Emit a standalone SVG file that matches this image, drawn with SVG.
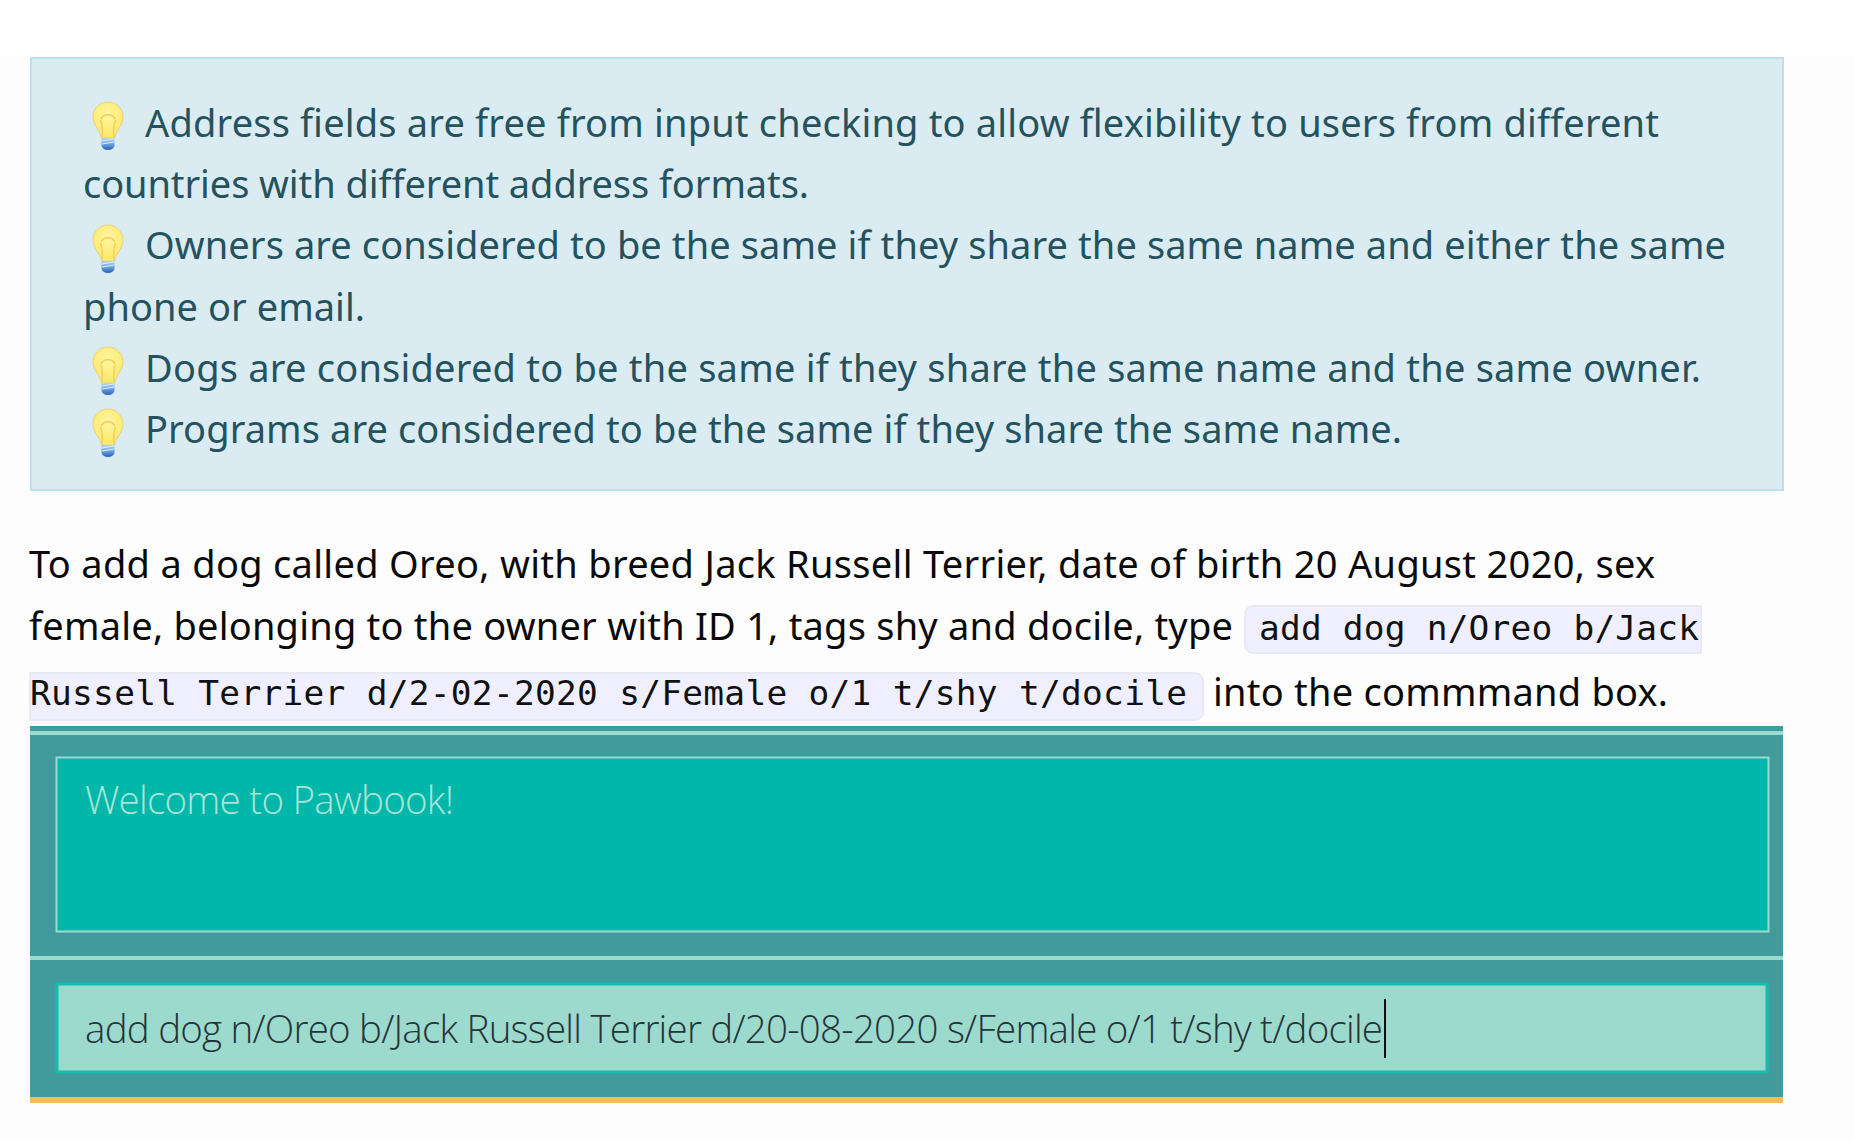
<svg xmlns="http://www.w3.org/2000/svg" width="1854" height="1140" viewBox="0 0 1854 1140">
<style>
.b{font-family:"Noto Sans","Open Sans","DejaVu Sans",sans-serif;font-size:38px}
.t{fill:#24525e}
.p{fill:#0a0a0a}
.m{font-family:"DejaVu Sans Mono","Liberation Mono",monospace;font-size:34.500px;fill:#111}
.l{font-family:"Open Sans","Noto Sans",sans-serif;font-weight:300;font-size:38.500px}
</style>
<defs>
<linearGradient id="base" x1="0" y1="0" x2="0" y2="1"><stop offset="0" stop-color="#b5d6f0"/><stop offset=".5" stop-color="#6ba3e0"/><stop offset="1" stop-color="#2a5fb5"/></linearGradient>
<radialGradient id="glass" cx=".5" cy=".35" r=".7"><stop offset="0" stop-color="#fff6a0"/><stop offset="1" stop-color="#fde663"/></radialGradient>
<g id="bulb">
<path d="M15 0C6.500 0 0 6.500 0 15C0 21 3.500 25 6 29.500C7.500 32 8 34 8.500 36H21.500C22 34 22.500 32 24 29.500C26.500 25 30 21 30 15C30 6.500 23.500 0 15 0Z" fill="url(#glass)" stroke="#e6d27a" stroke-width="1"/>
<path d="M9 36C10 27 9 22 7.500 18M21 36C20 27 21 22 22.500 18M8 17Q11 12 15 13Q19 12 22 17" fill="none" stroke="#f1cf5e" stroke-width="1.500"/>
<path d="M8.500 36H21.500V44Q20 48 15 48Q10 48 8.500 44Z" fill="url(#base)"/>
<path d="M9 39L21 37M9 42L21 40" stroke="#e3f0fa" stroke-width="1" fill="none"/>
</g>
</defs>
<rect width="1854" height="1140" fill="#fdfdfd"/>
<rect width="1854" height="57" fill="#fff"/>
<g id="tip-panel">
<rect x="31" y="58" width="1752" height="432" fill="#daecf1" stroke="#bfe0e9" stroke-width="2"/>
<use href="#bulb" x="93" y="102"/>
<use href="#bulb" x="93" y="225"/>
<use href="#bulb" x="93" y="347"/>
<use href="#bulb" x="93" y="409"/>
<text class="b t" x="145" y="137" textLength="1514">Address fields are free from input checking to allow flexibility to users from different</text>
<text class="b t" x="83" y="198" textLength="726">countries with different address formats.</text>
<text class="b t" x="145" y="259" textLength="1581">Owners are considered to be the same if they share the same name and either the same</text>
<text class="b t" x="83" y="321" textLength="282">phone or email.</text>
<text class="b t" x="145" y="382" textLength="1556">Dogs are considered to be the same if they share the same name and the same owner.</text>
<text class="b t" x="145" y="443" textLength="1257">Programs are considered to be the same if they share the same name.</text>
</g>
<g id="paragraph">
<text class="b p" x="29" y="578" textLength="1626">To add a dog called Oreo, with breed Jack Russell Terrier, date of birth 20 August 2020, sex</text>
<text class="b p" x="29" y="640" textLength="1204">female, belonging to the owner with ID 1, tags shy and docile, type</text>
<path d="M1701 606H1253a8 8 0 0 0-8 8V645a8 8 0 0 0 8 8H1701Z" fill="#efefff" stroke="#e9e9f1" stroke-width="2"/>
<path d="M30 673H1195a8 8 0 0 1 8 8V712a8 8 0 0 1-8 8H30Z" fill="#efefff" stroke="#e9e9f1" stroke-width="2"/>
<text class="m" x="1259" y="640" textLength="440">add dog n/Oreo b/Jack</text>
<text class="m" x="30" y="705" textLength="1157">Russell Terrier d/2-02-2020 s/Female o/1 t/shy t/docile</text>
<text class="b p" x="1213" y="706" textLength="455">into the commmand box.</text>
</g>
<g id="app-window">
<rect x="30" y="726" width="1753" height="377" fill="#419a9c"/>
<rect x="30" y="731" width="1753" height="4" fill="#9cdace"/>
<rect x="30" y="956" width="1753" height="4" fill="#9cdace"/>
<rect x="30" y="1097" width="1753" height="6" fill="#f4bc5a"/>
<g id="result-box">
<rect x="56.500" y="757.500" width="1712" height="174" fill="#00b7aa" stroke="#9cdace" stroke-width="2"/>
<text class="l" x="85" y="814" fill="#a8e4d8" textLength="369">Welcome to Pawbook!</text>
</g>
<g id="command-box">
<rect x="57" y="984" width="1710" height="88" fill="#9cdace" stroke="#14bdae" stroke-width="3"/>
<text class="l" x="85" y="1043" fill="#25343a" textLength="1298">add dog n/Oreo b/Jack Russell Terrier d/20-08-2020 s/Female o/1 t/shy t/docile</text>
<rect x="1384" y="999" width="2" height="59" fill="#111"/>
</g>
</g>
</svg>
